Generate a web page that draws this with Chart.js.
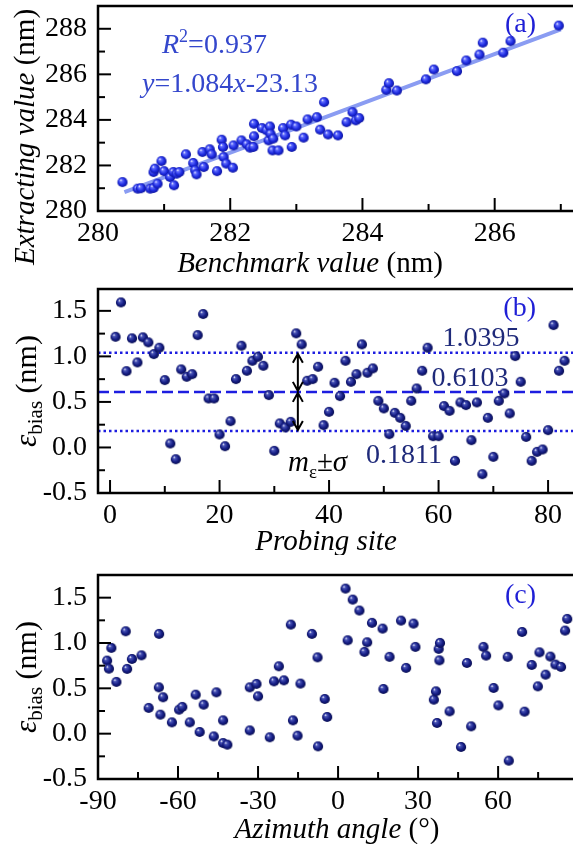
<!DOCTYPE html>
<html>
<head>
<meta charset="utf-8">
<script src="https://cdn.jsdelivr.net/npm/chart.js@4.4.1/dist/chart.umd.min.js"></script>
<style>
  html, body { margin: 0; padding: 0; background: #fff; overflow: hidden; }
  #wrap { position: relative; width: 573px; height: 844px; overflow: hidden; }
  canvas { position: absolute; left: 0; }
</style>
</head>
<body>
<div id="wrap">
  <canvas id="chartA" width="590" height="280" style="top:0"></canvas>
  <canvas id="chartB" width="590" height="275" style="top:280px"></canvas>
  <canvas id="chartC" width="590" height="289" style="top:555px"></canvas>
</div>
<script>
// ---- (a) extracted vs benchmark ----
const benchX = [280.37, 280.60, 280.65, 280.79, 280.84, 280.84, 280.86, 280.90, 280.96, 281.00,
  281.09, 281.14, 281.15, 281.19, 281.23, 281.33, 281.44, 281.47, 281.49, 281.60,
  281.58, 281.69, 281.72, 281.80, 281.87, 281.89, 281.90, 281.94, 282.04, 282.05,
  282.17, 282.25, 282.30, 282.35, 282.36, 282.36, 282.48, 282.55, 282.58, 282.60,
  282.61, 282.65, 282.64, 282.73, 282.80, 282.83, 282.92, 282.93, 283.00, 283.11,
  283.17, 283.31, 283.36, 283.42, 283.48, 283.63, 283.76, 283.85, 283.90, 283.95,
  284.36, 284.40, 284.52, 284.96, 285.08, 285.43, 285.57, 285.77, 285.82, 286.13,
  286.24, 286.97];
const extractY = [281.27, 280.98, 281.00, 280.98, 281.01, 281.71, 281.86, 281.20, 282.19, 281.75,
  281.49, 281.71, 281.13, 281.64, 281.71, 282.49, 282.11, 281.79, 281.61, 281.93,
  282.59, 282.71, 282.49, 281.75, 283.13, 282.81, 282.37, 282.08, 281.90, 282.88,
  283.10, 282.93, 282.78, 282.81, 283.28, 283.83, 283.64, 283.54, 283.10, 283.71,
  283.39, 283.18, 282.66, 282.66, 283.64, 283.32, 283.79, 282.81, 283.71, 283.22,
  284.02, 284.12, 283.57, 284.78, 283.36, 283.32, 283.90, 284.34, 283.98, 284.08,
  285.32, 285.61, 285.29, 285.78, 286.21, 286.14, 286.61, 286.87, 287.39, 286.95,
  287.46, 288.14];
const fitSlope = 1.084;
const fitIntercept = -23.13;
const fitR2 = 0.937;
const fitRange = [280.4, 287.0];

// ---- (b) bias per probing site ----
const siteIdx = Array.from({ length: 83 }, (_, i) => i + 1);
const siteBias = [1.215, 1.593, 0.838, 1.198, 0.934, 1.209, 1.154, 1.025, 1.095, 0.740,
  0.044, -0.129, 0.857, 0.776, 0.805, 1.234, 1.465, 0.538, 0.538, 0.143,
  0.014, 0.289, 0.751, 1.117, 0.842, 0.952, 0.996, 0.897, 0.575, -0.037,
  0.264, 0.220, 0.281, 1.253, 1.132, 0.732, 0.751, 0.886, 0.245, 0.391,
  0.710, 0.564, 0.952, 0.721, 0.805, 1.132, 0.820, 0.868, 0.512, 0.429,
  0.146, 0.380, 0.325, 0.237, 0.512, 0.648, 0.842, 1.095, 0.124, 0.124,
  0.454, 0.402, -0.147, 0.495, 0.465, 0.080, 0.495, -0.293, 0.325, -0.103,
  0.512, 0.593, 0.374, 1.003, 0.721, 0.116, -0.147, -0.048, -0.022, 0.190,
  1.344, 0.842, 0.952];
const biasMean = 0.6103;
const biasUpper = 1.0395;
const biasLower = 0.1811;
const arrowSite = 34.3;

// ---- (c) bias vs azimuth ----
const azimuth = [-86.6, -85.9, -85.0, -83.1, -79.6, -79.1, -77.3, -73.7, -71.0, -67.1,
  -67.2, -66.6, -65.6, -62.3, -59.6, -58.4, -55.6, -53.4, -51.9, -50.4,
  -46.6, -45.6, -43.1, -43.1, -41.5, -33.1, -33.1, -30.6, -30.0, -25.6,
  -24.0, -22.2, -20.3, -17.7, -16.9, -15.2, -14.1, -9.8, -7.7, -7.5,
  -5.0, -4.1, 2.8, 3.6, 5.5, 8.0, 9.9, 10.9, 12.7, 16.7,
  17.0, 19.3, 23.6, 25.5, 28.3, 29.0, 35.9, 36.7, 37.1, 37.7,
  38.2, 38.0, 41.8, 46.1, 48.3, 49.9, 54.5, 55.5, 58.3, 60.1,
  63.6, 64.0, 69.0, 69.9, 72.6, 74.9, 75.5, 77.8, 79.6, 81.5,
  83.6, 85.1, 85.9];
const azimuthBias = [0.806, 0.717, 0.946, 0.571, 1.129, 0.714, 0.824, 0.864, 0.284, 1.100,
  0.511, 0.210, 0.401, 0.125, 0.265, 0.295, 0.125, 0.430, 0.019, 0.320,
  -0.030, 0.456, 0.147, -0.103, -0.121, 0.036, 0.511, 0.549, 0.412, -0.040,
  0.577, 0.743, 0.588, 1.203, 0.147, -0.022, 0.552, 1.100, 0.842, -0.140,
  0.383, 0.184, 1.600, 1.030, 1.479, 1.358, 0.902, 1.008, 1.222, 1.159,
  0.493, 0.847, 1.247, 0.725, 1.214, 0.957, 0.375, 0.467, 0.118, 0.935,
  1.001, 0.809, 0.246, -0.147, 0.780, 0.081, 0.957, 0.861, 0.504, 0.312,
  0.847, -0.298, 1.122, 0.243, 0.758, 0.522, 0.897, 0.651, 0.850, 0.762,
  0.736, 1.137, 1.266];

// ---- tick positions (major ones get a label) ----
const ticksAX = [280, 281, 282, 283, 284, 285, 286, 287];
const labelsAX = [280, 282, 284, 286];
const ticksAY = [280, 281, 282, 283, 284, 285, 286, 287, 288];
const labelsAY = [280, 282, 284, 286, 288];
const ticksBX = [0, 10, 20, 30, 40, 50, 60, 70, 80];
const labelsBX = [0, 20, 40, 60, 80];
const ticksBias = [-0.5, -0.25, 0, 0.25, 0.5, 0.75, 1.0, 1.25, 1.5];
const labelsBias = [-0.5, 0, 0.5, 1.0, 1.5];
const ticksCX = [-90, -75, -60, -45, -30, -15, 0, 15, 30, 45, 60, 75];
const labelsCX = [-90, -60, -30, 0, 30, 60];

const SERIF = "'Liberation Serif', 'Times New Roman', serif";
const TICK_FONT = { family: SERIF, size: 28 };

// shaded ball used as point marker
function ballSprite(hi, mid, rim) {
  const c = document.createElement('canvas');
  c.width = c.height = 12;
  const g = c.getContext('2d');
  const grd = g.createRadialGradient(4.2, 4.0, 0.2, 6, 6, 5.6);
  grd.addColorStop(0, '#ffffff');
  grd.addColorStop(0.2, hi);
  grd.addColorStop(0.6, mid);
  grd.addColorStop(1, rim);
  g.fillStyle = grd;
  g.beginPath();
  g.arc(6, 6, 5.1, 0, Math.PI * 2);
  g.fill();
  return c;
}
const ballBlue = ballSprite('#6470ff', '#1e2be0', '#0c1290');
const ballNavy = ballSprite('#4a55b8', '#151d84', '#070b45');

// draw a sequence of differently styled text pieces
function drawRuns(ctx, runs, x, y, align) {
  const fontOf = r => (r.italic ? 'italic ' : '') + r.size + 'px ' + SERIF;
  let w = 0;
  runs.forEach(r => { ctx.font = fontOf(r); w += ctx.measureText(r.t).width; });
  let cx = align === 'center' ? x - w / 2 : (align === 'right' ? x - w : x);
  ctx.textAlign = 'left';
  ctx.textBaseline = 'alphabetic';
  runs.forEach(r => {
    ctx.font = fontOf(r);
    ctx.fillText(r.t, cx, y + (r.dy || 0));
    cx += ctx.measureText(r.t).width;
  });
}

function fixedTicks(values) {
  return scale => { scale.ticks = values.map(v => ({ value: v })); };
}

function labelIf(list, fmt) {
  return v => (list.includes(v) ? fmt(v) : '');
}

function noScalePadding(s) {
  s.paddingTop = 0;
  s.paddingBottom = 0;
  s.paddingLeft = 0;
  s.paddingRight = 0;
}

// frame round the plot, inward ticks and the axis titles
function framePlugin(opts) {
  return {
    id: 'frame',
    afterDraw(chart) {
      const ctx = chart.ctx;
      const a = chart.chartArea;
      const xs = chart.scales.x, ys = chart.scales.y;
      ctx.save();
      ctx.strokeStyle = '#000';
      ctx.lineWidth = 2;
      xs.ticks.forEach(t => {
        const px = xs.getPixelForValue(t.value);
        const len = t.label !== '' ? 13 : 7;
        ctx.beginPath();
        ctx.moveTo(px, a.bottom);
        ctx.lineTo(px, a.bottom - len);
        ctx.stroke();
      });
      ys.ticks.forEach(t => {
        const py = ys.getPixelForValue(t.value);
        const len = t.label !== '' ? 13 : 7;
        ctx.beginPath();
        ctx.moveTo(a.left, py);
        ctx.lineTo(a.left + len, py);
        ctx.stroke();
      });
      ctx.lineWidth = 2.5;
      ctx.strokeRect(a.left, a.top, a.right - a.left, a.bottom - a.top);

      ctx.fillStyle = '#000';
      drawRuns(ctx, opts.xTitle, opts.xTitleX, opts.xTitleY, 'center');
      ctx.translate(opts.yTitleX, opts.yTitleY);
      ctx.rotate(-Math.PI / 2);
      drawRuns(ctx, opts.yTitle, 0, 0, 'center');
      ctx.restore();
      if (opts.extra) opts.extra(chart);
    }
  };
}

function panelLabel(ctx, text, x, y) {
  ctx.save();
  ctx.fillStyle = '#1f1fd6';
  drawRuns(ctx, [{ t: text, size: 28 }], x, y, 'right');
  ctx.restore();
}

function baseOptions(cfg) {
  return {
    responsive: false,
    animation: false,
    layout: { padding: cfg.padding },
    plugins: { legend: { display: false }, tooltip: { enabled: false } },
    scales: {
      x: {
        type: 'linear', min: cfg.xMin, max: cfg.xMax,
        afterBuildTicks: fixedTicks(cfg.xTicks),
        afterFit: s => { s.height = cfg.xHeight; noScalePadding(s); },
        grid: { display: false, drawTicks: false },
        border: { display: false },
        ticks: { font: TICK_FONT, color: '#000', padding: cfg.xPad, maxRotation: 0, autoSkip: false,
                 callback: labelIf(cfg.xLabels, cfg.xFmt) }
      },
      y: {
        type: 'linear', min: cfg.yMin, max: cfg.yMax,
        afterBuildTicks: fixedTicks(cfg.yTicks),
        afterFit: s => { s.width = 98; noScalePadding(s); },
        grid: { display: false, drawTicks: false },
        border: { display: false },
        ticks: { font: TICK_FONT, color: '#000', padding: 11, autoSkip: false,
                 callback: labelIf(cfg.yLabels, cfg.yFmt) }
      }
    }
  };
}

const epsTitle = [
  { t: 'ε', italic: true, size: 31 },
  { t: 'bias', size: 21, dy: 6 },
  { t: ' (nm)', size: 30 }
];

// ---------- chart (a) ----------
const fitLine = fitRange.map(x => ({ x: x, y: fitSlope * x + fitIntercept }));
new Chart(document.getElementById('chartA'), {
  type: 'scatter',
  data: {
    datasets: [
      { data: benchX.map((x, i) => ({ x: x, y: extractY[i] })), pointStyle: ballBlue, pointRadius: 5 },
      { type: 'line', data: fitLine, borderColor: '#8a9cf2', borderWidth: 4, pointRadius: 0, fill: false }
    ]
  },
  options: baseOptions({
    padding: { top: 5, right: 14, left: 0, bottom: 0 },
    xMin: 280, xMax: 287.23, xTicks: ticksAX, xLabels: labelsAX, xFmt: v => String(v), xHeight: 69, xPad: 6,
    yMin: 280, yMax: 289, yTicks: ticksAY, yLabels: labelsAY, yFmt: v => String(v)
  }),
  plugins: [framePlugin({
    xTitle: [{ t: 'Benchmark value', italic: true, size: 29 }, { t: ' (nm)', size: 29 }],
    xTitleX: 310, xTitleY: 272,
    yTitle: [{ t: 'Extracting value', italic: true, size: 29 }, { t: ' (nm)', size: 29 }],
    yTitleX: 34, yTitleY: 137,
    extra: chart => {
      const ctx = chart.ctx;
      ctx.save();
      ctx.fillStyle = '#3447cc';
      drawRuns(ctx, [
        { t: 'R', italic: true, size: 28 },
        { t: '2', size: 18, dy: -11 },
        { t: '=' + fitR2.toFixed(3), size: 28 }
      ], 162, 53, 'left');
      drawRuns(ctx, [
        { t: 'y', italic: true, size: 28 },
        { t: '=' + fitSlope.toFixed(3), size: 28 },
        { t: 'x', italic: true, size: 28 },
        { t: '-' + Math.abs(fitIntercept).toFixed(2), size: 28 }
      ], 142, 92, 'left');
      ctx.restore();
      panelLabel(ctx, '(a)', 536, 32);
    }
  })]
});

// ---------- chart (b) ----------
function drawArrow(ctx, x, y0, y1) {
  const dir = y1 > y0 ? 1 : -1;
  ctx.beginPath();
  ctx.moveTo(x, y0);
  ctx.lineTo(x, y1);
  ctx.moveTo(x - 5, y0 + dir * 9);
  ctx.lineTo(x, y0);
  ctx.lineTo(x + 5, y0 + dir * 9);
  ctx.moveTo(x - 5, y1 - dir * 9);
  ctx.lineTo(x, y1);
  ctx.lineTo(x + 5, y1 - dir * 9);
  ctx.stroke();
}

const bandPlugin = {
  id: 'band',
  beforeDatasetsDraw(chart) {
    const ctx = chart.ctx;
    const a = chart.chartArea;
    const ys = chart.scales.y;
    ctx.save();
    ctx.strokeStyle = '#1d1de0';
    ctx.lineWidth = 2.5;
    [[biasUpper, [2.5, 3]], [biasMean, [11, 5]], [biasLower, [2.5, 3]]].forEach(([v, dash]) => {
      const py = ys.getPixelForValue(v);
      ctx.setLineDash(dash);
      ctx.beginPath();
      ctx.moveTo(a.left, py);
      ctx.lineTo(a.right, py);
      ctx.stroke();
    });
    ctx.restore();
  },
  afterDatasetsDraw(chart) {
    const ctx = chart.ctx;
    const xs = chart.scales.x, ys = chart.scales.y;
    const px = xs.getPixelForValue(arrowSite);
    const pu = ys.getPixelForValue(biasUpper);
    const pm = ys.getPixelForValue(biasMean);
    const pl = ys.getPixelForValue(biasLower);
    ctx.save();
    ctx.strokeStyle = '#000';
    ctx.lineWidth = 2;
    drawArrow(ctx, px, pu + 1, pm - 1);
    drawArrow(ctx, px, pm + 1, pl - 1);
    ctx.fillStyle = '#1f2a7a';
    drawRuns(ctx, [{ t: biasUpper.toFixed(4), size: 28 }], 481, pu - 7, 'center');
    drawRuns(ctx, [{ t: biasMean.toFixed(4), size: 28 }], 470, pm - 6, 'center');
    drawRuns(ctx, [{ t: biasLower.toFixed(4), size: 28 }], 404, pl + 32, 'center');
    ctx.fillStyle = '#000';
    drawRuns(ctx, [
      { t: 'm', italic: true, size: 29 },
      { t: 'ε', size: 19, dy: 7 },
      { t: '±', size: 29 },
      { t: 'σ', italic: true, size: 29 }
    ], 288, pl + 40, 'left');
    ctx.restore();
  }
};

new Chart(document.getElementById('chartB'), {
  type: 'scatter',
  data: {
    datasets: [
      { data: siteIdx.map((x, i) => ({ x: x, y: siteBias[i] })), pointStyle: ballNavy, pointRadius: 5 }
    ]
  },
  options: baseOptions({
    padding: { top: 9, right: 14, left: 0, bottom: 0 },
    xMin: -2.2, xMax: 85.1, xTicks: ticksBX, xLabels: labelsBX, xFmt: v => String(v), xHeight: 62, xPad: 6,
    yMin: -0.5, yMax: 1.74, yTicks: ticksBias, yLabels: labelsBias, yFmt: v => v.toFixed(1)
  }),
  plugins: [bandPlugin, framePlugin({
    xTitle: [{ t: 'Probing site', italic: true, size: 29 }],
    xTitleX: 326, xTitleY: 270,
    yTitle: epsTitle,
    yTitleX: 36, yTitleY: 111,
    extra: chart => panelLabel(chart.ctx, '(b)', 536, 36)
  })]
});

// ---------- chart (c) ----------
new Chart(document.getElementById('chartC'), {
  type: 'scatter',
  data: {
    datasets: [
      { data: azimuth.map((x, i) => ({ x: x, y: azimuthBias[i] })), pointStyle: ballNavy, pointRadius: 5 }
    ]
  },
  options: baseOptions({
    padding: { top: 20, right: 14, left: 0, bottom: 0 },
    xMin: -90, xMax: 89.2, xTicks: ticksCX, xLabels: labelsCX, xFmt: v => String(v), xHeight: 65, xPad: 6,
    yMin: -0.5, yMax: 1.75, yTicks: ticksBias, yLabels: labelsBias, yFmt: v => v.toFixed(1)
  }),
  plugins: [framePlugin({
    xTitle: [{ t: 'Azimuth angle', italic: true, size: 29 }, { t: ' (°)', size: 29 }],
    xTitleX: 337, xTitleY: 283,
    yTitle: epsTitle,
    yTitleX: 36, yTitleY: 122,
    extra: chart => panelLabel(chart.ctx, '(c)', 536, 48)
  })]
});
</script>
</body>
</html>
